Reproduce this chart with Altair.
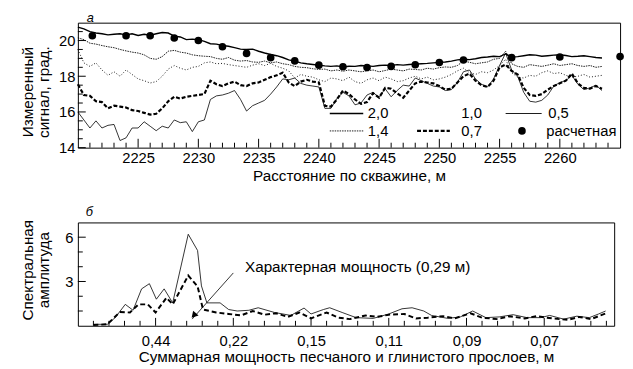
import altair as alt
import pandas as pd

# ---------------- panel a: measured signal along the well ----------------
DEPTH = [
    2220.0, 2220.5, 2221.0, 2221.5, 2222.0, 2222.5, 2223.0, 2223.5, 2224.0, 2224.5,
    2225.0, 2225.5, 2226.0, 2226.5, 2227.0, 2227.5, 2228.0, 2228.5, 2229.0, 2229.5,
    2230.0, 2230.5, 2231.0, 2231.5, 2232.0, 2232.5, 2233.0, 2233.5, 2234.0, 2234.5,
    2235.0, 2235.5, 2236.0, 2236.5, 2237.0, 2237.5, 2238.0, 2238.5, 2239.0, 2239.5,
    2240.0, 2240.5, 2241.0, 2241.5, 2242.0, 2242.5, 2243.0, 2243.5, 2244.0, 2244.5,
    2245.0, 2245.5, 2246.0, 2246.5, 2247.0, 2247.5, 2248.0, 2248.5, 2249.0, 2249.5,
    2250.0, 2250.5, 2251.0, 2251.5, 2252.0, 2252.5, 2253.0, 2253.5, 2254.0, 2254.5,
    2255.0, 2255.5, 2256.0, 2256.5, 2257.0, 2257.5, 2258.0, 2258.5, 2259.0, 2259.5,
    2260.0, 2260.5, 2261.0, 2261.5, 2262.0, 2262.5, 2263.0, 2263.5,
]
SIG_20 = [
    20.75, 20.65, 20.5, 20.42, 20.38, 20.32, 20.35, 20.38, 20.32, 20.38,
    20.28, 20.35, 20.3, 20.38, 20.45, 20.42, 20.25, 20.2, 20.05, 20.08,
    20.05, 19.95, 19.82, 19.8, 19.72, 19.68, 19.6, 19.52, 19.5, 19.52,
    19.4, 19.3, 19.22, 19.15, 19.05, 18.92, 18.85, 18.75, 18.7, 18.66,
    18.62, 18.58, 18.55, 18.58, 18.52, 18.56, 18.55, 18.6, 18.58, 18.55,
    18.6, 18.62, 18.6, 18.65, 18.62, 18.66, 18.68, 18.7, 18.72, 18.75,
    18.78, 18.8, 18.85, 18.92, 18.95, 18.93, 18.98, 19.05, 19.08, 19.12,
    19.1, 19.25, 19.08, 19.1, 19.15, 19.2, 19.18, 19.12, 19.15, 19.18,
    19.2, 19.16, 19.1, 19.12, 19.15, 19.1, 19.05, 19.02,
]
SIG_14 = [
    20.15, 20.05, 19.85, 19.8, 19.72, 19.65, 19.6, 19.5, 19.42, 19.35,
    19.3, 19.2, 19.0, 18.95, 19.1, 19.4, 19.45, 19.35, 19.3, 19.2,
    19.15, 19.12, 19.1, 19.0, 18.95, 19.05, 18.9, 18.85, 18.88, 18.8,
    18.78, 18.85, 18.75, 18.8, 18.7, 18.65, 18.55, 18.5, 18.48, 18.42,
    18.38, 18.4, 18.3, 18.35, 18.28, 18.35, 18.3, 18.25, 18.3, 18.35,
    18.25, 18.32, 18.4, 18.35, 18.3, 18.4, 18.38, 18.35, 18.45, 18.4,
    18.48, 18.52, 18.5, 18.6, 18.85, 18.78, 18.7, 18.75, 18.8, 18.95,
    19.0, 19.4, 18.7, 18.55, 18.5, 18.65, 18.6, 18.55, 18.62, 18.7,
    18.6, 18.65, 18.7, 18.6, 18.55, 18.6, 18.5, 18.55,
]
SIG_10 = [
    19.5, 18.75, 18.55, 18.75, 18.35, 18.05, 18.25, 18.0, 18.35, 18.1,
    17.85, 17.75, 17.62, 17.7, 18.0, 18.4, 18.6, 18.45, 18.35, 18.5,
    18.55, 18.75, 18.8, 18.7, 18.72, 18.65, 18.6, 18.55, 18.5, 18.62,
    18.7, 18.6, 18.72, 18.55, 18.45, 18.3, 17.9, 18.1, 18.0, 17.95,
    17.8, 17.7, 17.9, 17.85, 17.75, 17.95, 17.7, 17.6, 17.8, 17.9,
    17.75, 17.95, 17.85, 17.7, 17.75, 17.9, 18.0, 17.85, 17.95, 17.8,
    17.85, 17.95, 18.1, 18.3, 18.45, 18.2, 18.1, 18.25, 18.2, 18.35,
    18.6, 18.95, 18.2, 17.95, 17.9, 18.05, 18.0, 18.2, 18.3, 18.15,
    18.2, 18.05, 17.95, 18.0, 18.1, 17.95, 18.0, 18.05,
]
SIG_07 = [
    17.55, 16.95, 16.9, 16.6, 16.55, 16.2, 16.35, 16.3, 16.25, 16.1,
    16.05, 15.95, 15.85, 15.9, 16.2, 16.6, 16.85, 16.75, 16.85, 16.9,
    16.95, 17.0, 17.75, 17.55, 17.45, 17.6, 17.7, 17.5, 17.45, 17.6,
    17.65, 17.8, 17.95, 18.05, 18.2, 17.65, 17.45, 17.7, 17.8, 17.7,
    17.65, 16.35, 16.3, 16.7, 17.2, 17.0, 16.7, 16.45, 16.55, 17.05,
    16.8, 17.35, 17.3, 17.05, 16.8, 17.2, 17.6, 17.7, 17.65, 17.6,
    17.45, 17.25, 17.3, 17.65, 18.0, 18.15, 17.75, 17.5, 17.4, 17.75,
    18.5, 18.65, 18.3, 18.1, 17.35, 16.95, 16.9, 17.0, 17.25, 17.45,
    17.6, 17.75, 18.15, 17.6, 17.35, 17.3, 17.45, 17.3,
]
SIG_05 = [
    16.0, 15.55, 15.1, 15.5, 15.1, 15.25, 15.3, 14.4, 14.55, 15.1,
    15.1, 15.45, 15.2, 14.95, 15.2, 15.1, 15.55, 15.4, 15.45, 14.9,
    15.45, 15.55, 16.7, 16.9, 16.95, 17.05, 17.2, 16.7, 16.05, 16.35,
    16.5, 16.65, 17.0, 17.4, 17.85, 17.8, 17.9, 17.6, 17.5, 17.45,
    17.4, 16.2, 16.2, 16.75, 17.1, 16.9, 16.4, 16.5, 16.95, 17.1,
    16.8, 17.3, 16.85, 17.2, 17.5, 17.45, 17.9, 17.75, 17.6, 17.45,
    17.4, 17.2, 17.25, 17.65, 18.25, 18.35, 17.85, 17.55, 17.4, 17.85,
    18.6, 19.3, 18.35, 18.0, 17.1, 16.6, 16.55, 16.65, 16.95, 17.45,
    17.65, 17.75, 18.05, 17.55, 17.25, 17.35, 17.5, 17.2,
]
CALC_DEPTH = [2221.2, 2224, 2226, 2228, 2230, 2232, 2234, 2236, 2238, 2240,
              2242, 2244, 2246, 2248, 2250, 2252, 2256, 2260, 2265]
CALC_VAL = [20.27, 20.27, 20.27, 20.14, 20.0, 19.65, 19.28, 19.04, 18.86, 18.62,
            18.53, 18.49, 18.55, 18.64, 18.77, 18.91, 19.04, 19.08, 19.1]

X1_LABELS = [2225, 2230, 2235, 2240, 2245, 2250, 2255, 2260]
X1_MINOR = [v for v in range(2221, 2265) if v not in X1_LABELS]
Y1_LABELS = [14, 16, 18, 20]
Y1_MINOR = [14.5, 15, 15.5, 16.5, 17, 17.5, 18.5, 19, 19.5, 20.5]

# ---------------- panel б: spectrum ----------------
K_SOLID = [0.2, 0.38, 0.48, 0.61, 0.71, 0.82, 0.92, 1.01, 1.11, 1.22, 1.42, 1.54,
           1.59, 1.66, 1.83, 1.94, 2.05, 2.2, 2.32, 2.53, 2.74, 2.91, 3.0, 3.16,
           3.24, 3.4, 3.58, 3.8, 4.0, 4.17, 4.3, 4.45, 4.55, 4.76, 4.92, 5.08,
           5.25, 5.42, 5.6, 5.78, 5.95, 6.07, 6.25, 6.42, 6.58, 6.7, 6.79]
AMP_SOLID = [0.1, 0.1, 0.55, 1.45, 1.05, 2.5, 2.85, 1.8, 2.5, 1.55, 6.2, 5.1,
             2.7, 1.55, 1.55, 1.1, 1.0, 1.05, 1.22, 0.9, 0.7, 1.2, 0.8, 1.1,
             1.22, 0.9, 0.55, 0.5, 0.8, 1.15, 1.22, 1.0, 0.7, 0.5, 0.6, 1.0,
             0.55, 0.6, 0.75, 0.55, 0.55, 0.7, 0.45, 0.65, 0.55, 0.8, 1.0]
K_DASH = [0.2, 0.38, 0.54, 0.67, 0.78, 0.9, 1.0, 1.14, 1.22, 1.42, 1.54, 1.61,
          1.78, 1.94, 2.1, 2.25, 2.4, 2.55, 2.7, 2.85, 3.0, 3.2, 3.35, 3.5,
          3.7, 3.85, 4.0, 4.2, 4.35, 4.5, 4.7, 4.85, 5.05, 5.2, 5.4, 5.55,
          5.75, 5.9, 6.1, 6.3, 6.45, 6.6, 6.8]
AMP_DASH = [0.05, 0.1, 0.93, 0.9, 1.45, 1.45, 0.9, 1.9, 1.45, 3.4, 2.67, 1.1,
            0.9, 0.8, 0.7, 1.0, 0.75, 0.85, 0.6, 0.9, 0.5, 0.9, 0.55, 0.45,
            0.7, 0.6, 0.75, 0.8, 0.5, 0.55, 0.65, 0.5, 0.85, 0.55, 0.45, 0.65,
            0.5, 0.65, 0.5, 0.4, 0.6, 0.45, 0.85]
THICK_LABELS = ["0,44", "0,22", "0,15", "0,11", "0,09", "0,07"]
X2_LABELS = [1, 2, 3, 4, 5, 6]
X2_MINOR = [round(0.2 * i, 1) for i in range(1, 35) if i % 5 != 0]
Y2_LABELS = [3, 6]
Y2_MINOR = [1, 2, 4, 5]
ANNOT_TEXT = "Характерная мощность (0,29 м)"
ANNOT_POS = (2.15, 3.96)
ARROW_FROM = (2.0, 3.58)
ARROW_TO = (1.47, 0.45)
ARROW_HEAD = (1.5, 0.75)

FONT = "Liberation Sans"
FS = 15.5
W1, H1 = 551, 127
W2, H2 = 545, 105

xs1 = alt.Scale(domain=[2220, 2265], nice=False, zero=False)
ys1 = alt.Scale(domain=[14, 21], nice=False, zero=False)
xs2 = alt.Scale(domain=[0, 6.9], nice=False, zero=False)
ys2 = alt.Scale(domain=[0, 7], nice=False, zero=False)

AX_X1 = alt.Axis(title="Расстояние по скважине, м", values=X1_LABELS, format="d",
                 labelPadding=3, titlePadding=3)
AX_Y1 = alt.Axis(title=["Измеренный", "сигнал, град."], values=Y1_LABELS, labelPadding=3,
                 titleX=-58, titleY=70, titleBaseline="top", titleAngle=270,
                 titleAlign="center", titleLineHeight=16)
lab_expr = "[" + ",".join('"%s"' % s for s in THICK_LABELS) + "][datum.value - 1]"
AX_X2 = alt.Axis(title="Суммарная мощность песчаного и глинистого прослоев, м",
                 values=X2_LABELS, labelExpr=lab_expr, labelPadding=8, titlePadding=1)
AX_Y2 = alt.Axis(title=["Спектральная", "амплитуда"], values=Y2_LABELS, labelPadding=5,
                 titleX=-58, titleY=48, titleBaseline="top", titleAngle=270,
                 titleAlign="center", titleLineHeight=16)

one = pd.DataFrame({"k": [0]})


def xticks(vals, scale, axis, h, length):
    return alt.Chart(pd.DataFrame({"t": vals})).mark_rule(color="black", strokeWidth=1).encode(
        x=alt.X("t:Q", scale=scale, axis=axis), y=alt.value(h), y2=alt.value(h - length))


def yticks(vals, scale, axis, length):
    return alt.Chart(pd.DataFrame({"t": vals})).mark_rule(color="black", strokeWidth=1).encode(
        y=alt.Y("t:Q", scale=scale, axis=axis), x=alt.value(0), x2=alt.value(length))


def leg_line(x0, x1, y, **mk):
    return alt.Chart(one).mark_rule(color="black", **mk).encode(
        x=alt.value(x0), x2=alt.value(x1), y=alt.value(y))


def leg_text(txt, x, y, **mk):
    return alt.Chart(one).mark_text(text=txt, align="left", baseline="middle", font=FONT,
                                    fontSize=15, color="black", **mk).encode(
        x=alt.value(x), y=alt.value(y))


top_df = pd.DataFrame({"depth": DEPTH, "s20": SIG_20, "s14": SIG_14, "s10": SIG_10,
                       "s07": SIG_07, "s05": SIG_05})


def trace(col, **mk):
    return alt.Chart(top_df).mark_line(color="black", **mk).encode(
        x=alt.X("depth:Q", scale=xs1, axis=AX_X1),
        y=alt.Y(col + ":Q", scale=ys1, axis=AX_Y1))


calc = alt.Chart(pd.DataFrame({"depth": CALC_DEPTH, "v": CALC_VAL})).mark_circle(
    size=60, color="black", opacity=1).encode(
    x=alt.X("depth:Q", scale=xs1, axis=AX_X1), y=alt.Y("v:Q", scale=ys1, axis=AX_Y1))

R1, R2 = 92.3, 110
top = alt.layer(
    trace("s05", strokeWidth=0.8),
    trace("s07", strokeWidth=2.2, strokeDash=[4, 2]),
    trace("s10", strokeWidth=0.9, strokeDash=[1, 2]),
    trace("s14", strokeWidth=0.9, strokeDash=[1.5, 1]),
    trace("s20", strokeWidth=1.4),
    calc,
    xticks(X1_MINOR, xs1, AX_X1, H1, 5),
    xticks(X1_LABELS, xs1, AX_X1, H1, 9),
    yticks(Y1_MINOR, ys1, AX_Y1, 5),
    yticks(Y1_LABELS, ys1, AX_Y1, 8),
    leg_line(256, 290, R1, strokeWidth=1.4),
    leg_text("2,0", 294.7, R1),
    leg_text("1,0", 389.7, R1),
    leg_line(434.7, 471.3, R1, strokeWidth=0.9),
    leg_text("0,5", 478, R1),
    leg_line(256, 290, R2, strokeWidth=0.9, strokeDash=[1.5, 1]),
    leg_text("1,4", 294.7, R2),
    leg_line(344.7, 378, R2, strokeWidth=2.2, strokeDash=[4, 2]),
    leg_text("0,7", 389.7, R2),
    alt.Chart(one).mark_circle(size=60, color="black", opacity=1).encode(
        x=alt.value(451.3), y=alt.value(R2)),
    leg_text("расчетная", 476, R2),
    alt.Chart(one).mark_text(text="а", fontStyle="italic", align="left", baseline="alphabetic",
                             font=FONT, fontSize=13, color="black").encode(
        x=alt.value(9), y=alt.value(-1)),
).properties(width=W1, height=H1)

solid_df = pd.DataFrame({"k": K_SOLID, "a": AMP_SOLID})
dash_df = pd.DataFrame({"k": K_DASH, "a": AMP_DASH})


def spec(df, **mk):
    return alt.Chart(df).mark_line(color="black", **mk).encode(
        x=alt.X("k:Q", scale=xs2, axis=AX_X2), y=alt.Y("a:Q", scale=ys2, axis=AX_Y2))


arrow = alt.Chart(pd.DataFrame({"k": [ARROW_FROM[0]], "a": [ARROW_FROM[1]],
                                "k2": [ARROW_TO[0]], "a2": [ARROW_TO[1]]})).mark_rule(
    color="black", strokeWidth=0.8).encode(
    x=alt.X("k:Q", scale=xs2, axis=AX_X2), y=alt.Y("a:Q", scale=ys2, axis=AX_Y2),
    x2="k2:Q", y2="a2:Q")
head = alt.Chart(pd.DataFrame({"k": [ARROW_HEAD[0]], "a": [ARROW_HEAD[1]]})).mark_point(
    shape="triangle", filled=True, size=55, angle=222, color="black", opacity=1).encode(
    x=alt.X("k:Q", scale=xs2, axis=AX_X2), y=alt.Y("a:Q", scale=ys2, axis=AX_Y2))
annot = alt.Chart(pd.DataFrame({"k": [ANNOT_POS[0]], "a": [ANNOT_POS[1]]})).mark_text(
    text=ANNOT_TEXT, align="left", baseline="middle", font=FONT, fontSize=FS, color="black").encode(
    x=alt.X("k:Q", scale=xs2, axis=AX_X2), y=alt.Y("a:Q", scale=ys2, axis=AX_Y2))

bottom = alt.layer(
    spec(solid_df, strokeWidth=0.8),
    spec(dash_df, strokeWidth=2, strokeDash=[5, 3]),
    arrow, head, annot,
    xticks(X2_MINOR, xs2, AX_X2, H2, 5),
    xticks(X2_LABELS, xs2, AX_X2, H2, 8),
    yticks(Y2_MINOR, ys2, AX_Y2, 5),
    yticks(Y2_LABELS, ys2, AX_Y2, 8),
    alt.Chart(one).mark_text(text="б", fontStyle="italic", align="left", baseline="alphabetic",
                             font=FONT, fontSize=13, color="black").encode(
        x=alt.value(8), y=alt.value(-7)),
).properties(width=W2, height=H2)

chart = alt.vconcat(top, bottom, spacing=76, bounds="flush").properties(
    padding={"left": 12, "top": 0, "right": 0, "bottom": 0}
).configure_view(stroke="black", strokeWidth=1).configure_axis(
    domain=False, ticks=False, grid=False, labelFont=FONT, labelFontSize=15,
    labelColor="black", titleFont=FONT, titleFontSize=FS, titleFontWeight="normal",
    titleColor="black")

chart.save("out.html", embed_options={"renderer": "svg", "actions": False})
